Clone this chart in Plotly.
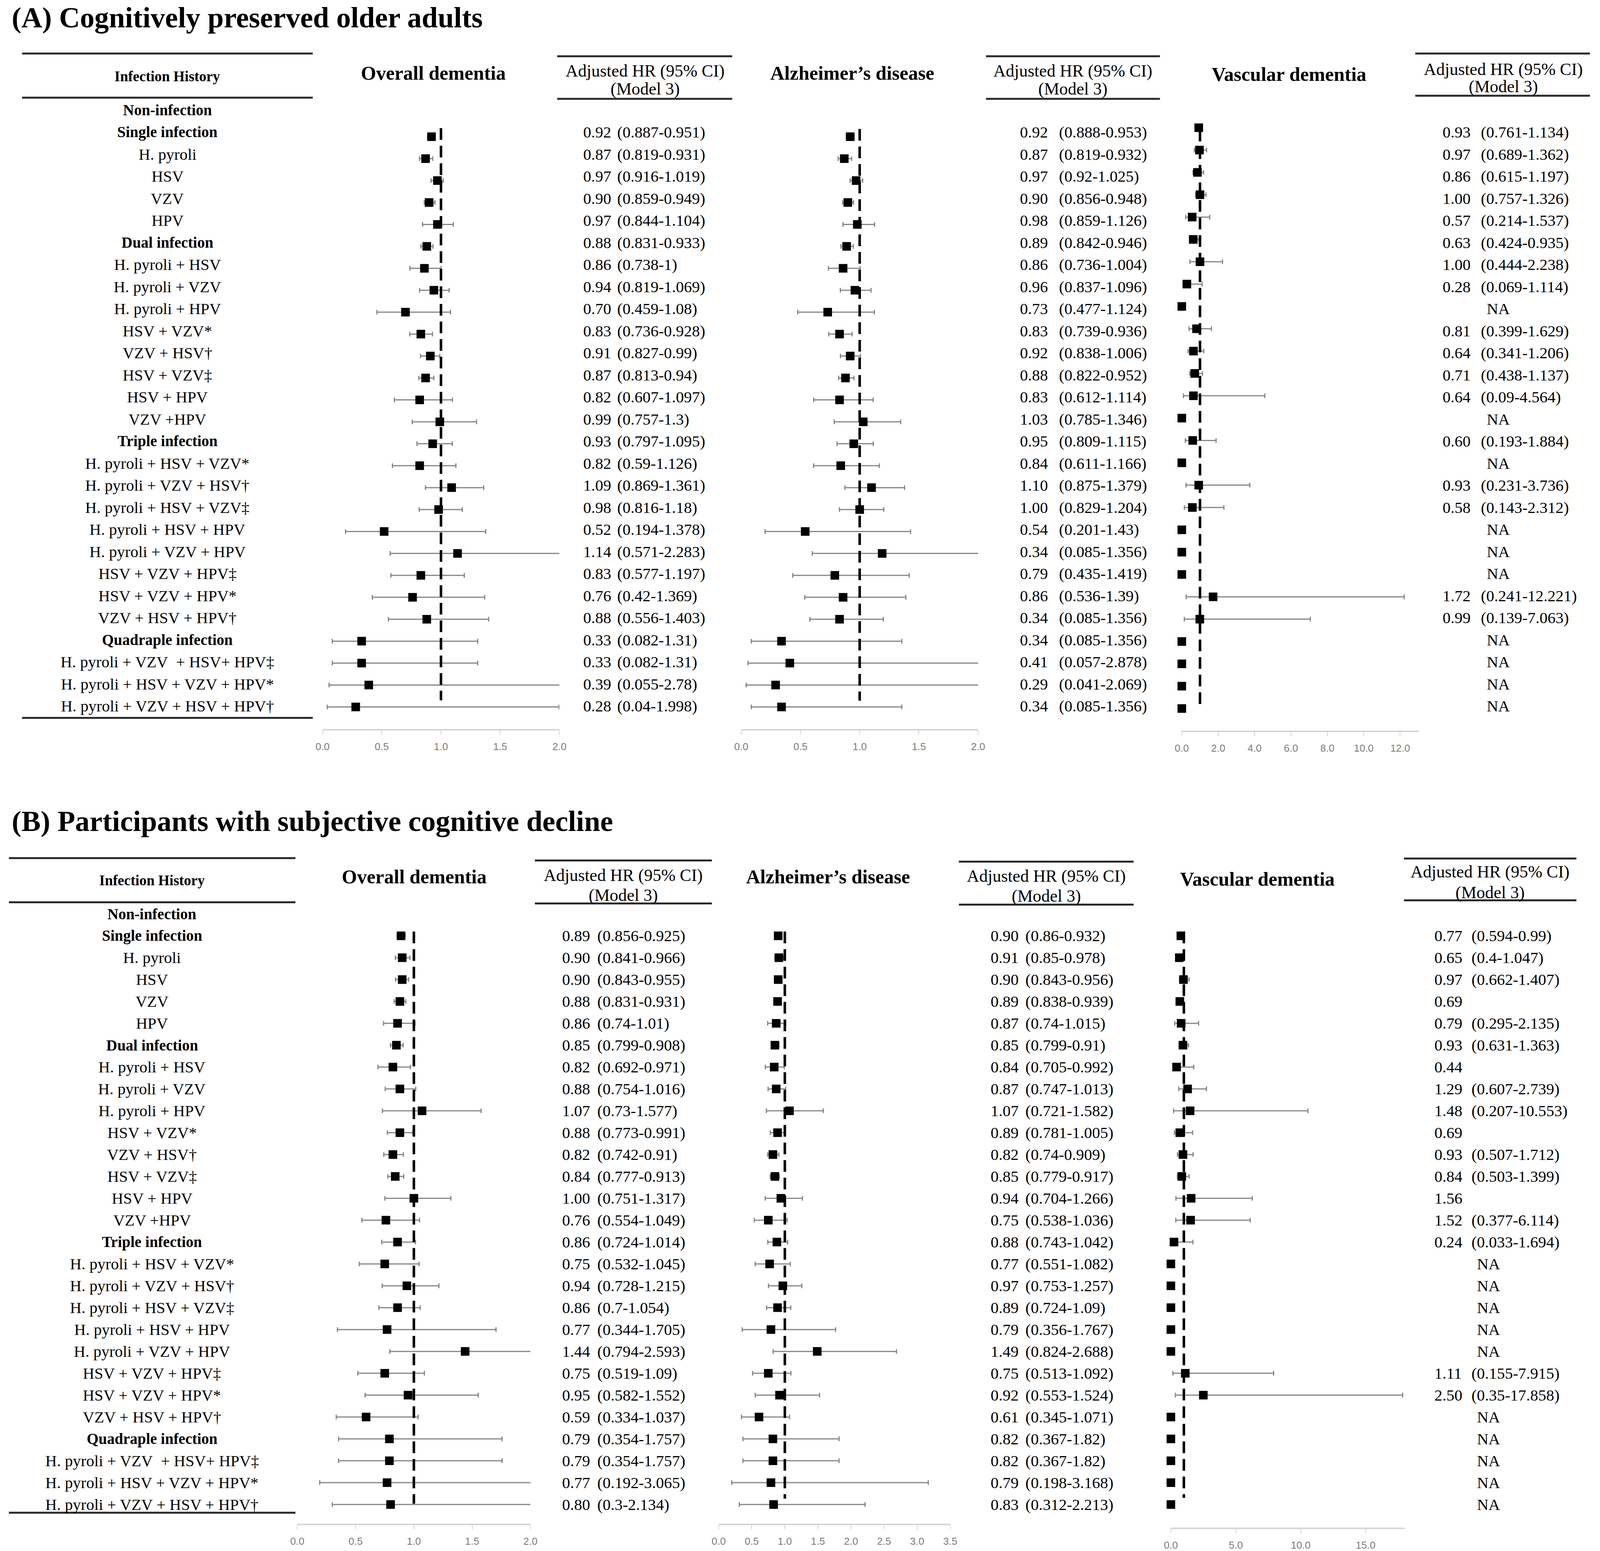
import plotly.graph_objects as go

W, H = 4212, 3970

# ---------------- data ----------------
ROW_LABELS = [
    "Non-infection", "Single infection", "H. pyroli", "HSV", "VZV", "HPV",
    "Dual infection", "H. pyroli + HSV", "H. pyroli + VZV", "H. pyroli + HPV",
    "HSV + VZV*", "VZV + HSV\u2020", "HSV + VZV\u2021", "HSV + HPV", "VZV +HPV",
    "Triple infection", "H. pyroli + HSV + VZV*", "H. pyroli + VZV + HSV\u2020",
    "H. pyroli + HSV + VZV\u2021", "H. pyroli + HSV + HPV", "H. pyroli + VZV + HPV",
    "HSV + VZV + HPV\u2021", "HSV + VZV + HPV*", "VZV + HSV + HPV\u2020",
    "Quadraple infection", "H. pyroli + VZV\u00a0 + HSV+ HPV\u2021",
    "H. pyroli + HSV + VZV + HPV*", "H. pyroli + VZV + HSV + HPV\u2020",
]
GROUP_ROWS = ["Non-infection", "Single infection", "Dual infection",
              "Triple infection", "Quadraple infection"]

COL_TITLES = ["Overall dementia", "Alzheimer\u2019s disease", "Vascular dementia"]
HR_HEADER = ["Adjusted HR (95% CI)", "(Model 3)"]
TITLE_A = "(A) Cognitively preserved older adults"
TITLE_B = "(B) Participants with subjective cognitive decline"

# Panel A - cognitively preserved
OD_A_HR = [0.92, 0.87, 0.97, 0.90, 0.97, 0.88, 0.86, 0.94, 0.70, 0.83, 0.91, 0.87, 0.82, 0.99,
           0.93, 0.82, 1.09, 0.98, 0.52, 1.14, 0.83, 0.76, 0.88, 0.33, 0.33, 0.39, 0.28]
OD_A_LO = [0.887, 0.819, 0.916, 0.859, 0.844, 0.831, 0.738, 0.819, 0.459, 0.736, 0.827, 0.813, 0.607, 0.757,
           0.797, 0.59, 0.869, 0.816, 0.194, 0.571, 0.577, 0.42, 0.556, 0.082, 0.082, 0.055, 0.04]
OD_A_HI = [0.951, 0.931, 1.019, 0.949, 1.104, 0.933, 1, 1.069, 1.08, 0.928, 0.99, 0.94, 1.097, 1.3,
           1.095, 1.126, 1.361, 1.18, 1.378, 2.283, 1.197, 1.369, 1.403, 1.31, 1.31, 2.78, 1.998]

AD_A_HR = [0.92, 0.87, 0.97, 0.90, 0.98, 0.89, 0.86, 0.96, 0.73, 0.83, 0.92, 0.88, 0.83, 1.03,
           0.95, 0.84, 1.10, 1.00, 0.54, 0.34, 0.79, 0.86, 0.34, 0.34, 0.41, 0.29, 0.34]
AD_A_LO = [0.888, 0.819, 0.92, 0.856, 0.859, 0.842, 0.736, 0.837, 0.477, 0.739, 0.838, 0.822, 0.612, 0.785,
           0.809, 0.611, 0.875, 0.829, 0.201, 0.085, 0.435, 0.536, 0.085, 0.085, 0.057, 0.041, 0.085]
AD_A_HI = [0.953, 0.932, 1.025, 0.948, 1.126, 0.946, 1.004, 1.096, 1.124, 0.936, 1.006, 0.952, 1.114, 1.346,
           1.115, 1.166, 1.379, 1.204, 1.43, 1.356, 1.419, 1.39, 1.356, 1.356, 2.878, 2.069, 1.356]
# forest marks drawn in the picture that differ from the printed table (index: (hr, lo, hi))
AD_A_DRAWN = {19: (1.19, 0.60, 2.40), 22: (0.83, 0.58, 1.20)}

VD_A_HR = [0.93, 0.97, 0.86, 1.00, 0.57, 0.63, 1.00, 0.28, None, 0.81, 0.64, 0.71, 0.64, None,
           0.60, None, 0.93, 0.58, None, None, None, 1.72, 0.99, None, None, None, None]
VD_A_LO = [0.761, 0.689, 0.615, 0.757, 0.214, 0.424, 0.444, 0.069, None, 0.399, 0.341, 0.438, 0.09, None,
           0.193, None, 0.231, 0.143, None, None, None, 0.241, 0.139, None, None, None, None]
VD_A_HI = [1.134, 1.362, 1.197, 1.326, 1.537, 0.935, 2.238, 1.114, None, 1.629, 1.206, 1.137, 4.564, None,
           1.884, None, 3.736, 2.312, None, None, None, 12.221, 7.063, None, None, None, None]

# Panel B - subjective cognitive decline
OD_B_HR = [0.89, 0.90, 0.90, 0.88, 0.86, 0.85, 0.82, 0.88, 1.07, 0.88, 0.82, 0.84, 1.00, 0.76,
           0.86, 0.75, 0.94, 0.86, 0.77, 1.44, 0.75, 0.95, 0.59, 0.79, 0.79, 0.77, 0.80]
OD_B_LO = [0.856, 0.841, 0.843, 0.831, 0.74, 0.799, 0.692, 0.754, 0.73, 0.773, 0.742, 0.777, 0.751, 0.554,
           0.724, 0.532, 0.728, 0.7, 0.344, 0.794, 0.519, 0.582, 0.334, 0.354, 0.354, 0.192, 0.3]
OD_B_HI = [0.925, 0.966, 0.955, 0.931, 1.01, 0.908, 0.971, 1.016, 1.577, 0.991, 0.91, 0.913, 1.317, 1.049,
           1.014, 1.045, 1.215, 1.054, 1.705, 2.593, 1.09, 1.552, 1.037, 1.757, 1.757, 3.065, 2.134]

AD_B_HR = [0.90, 0.91, 0.90, 0.89, 0.87, 0.85, 0.84, 0.87, 1.07, 0.89, 0.82, 0.85, 0.94, 0.75,
           0.88, 0.77, 0.97, 0.89, 0.79, 1.49, 0.75, 0.92, 0.61, 0.82, 0.82, 0.79, 0.83]
AD_B_LO = [0.86, 0.85, 0.843, 0.838, 0.74, 0.799, 0.705, 0.747, 0.721, 0.781, 0.74, 0.779, 0.704, 0.538,
           0.743, 0.551, 0.753, 0.724, 0.356, 0.824, 0.513, 0.553, 0.345, 0.367, 0.367, 0.198, 0.312]
AD_B_HI = [0.932, 0.978, 0.956, 0.939, 1.015, 0.91, 0.992, 1.013, 1.582, 1.005, 0.909, 0.917, 1.266, 1.036,
           1.042, 1.082, 1.257, 1.09, 1.767, 2.688, 1.092, 1.524, 1.071, 1.82, 1.82, 3.168, 2.213]

VD_B_HR = [0.77, 0.65, 0.97, 0.69, 0.79, 0.93, 0.44, 1.29, 1.48, 0.69, 0.93, 0.84, 1.56, 1.52,
           0.24, None, None, None, None, None, 1.11, 2.50, None, None, None, None, None]
VD_B_LO = [0.594, 0.4, 0.662, None, 0.295, 0.631, None, 0.607, 0.207, None, 0.507, 0.503, None, 0.377,
           0.033, None, None, None, None, None, 0.155, 0.35, None, None, None, None, None]
VD_B_HI = [0.99, 1.047, 1.407, None, 2.135, 1.363, None, 2.739, 10.553, None, 1.712, 1.399, None, 6.114,
           1.694, None, None, None, None, None, 7.915, 17.858, None, None, None, None, None]
VD_B_DRAWN = {6: (0.44, 0.20, 1.76), 9: (0.69, 0.27, 1.67), 12: (1.56, 0.39, 6.27)}

# ---------------- helpers ----------------
SERIF = "Liberation Serif, Times New Roman, serif"
SANS = "Liberation Sans, Arial, sans-serif"


def X(px):
    return px / W


def Y(py):
    return 1 - py / H


fig = go.Figure()
ann = []
shapes = []
layout_axes = {}
axis_counter = [0]


def hline(x0, x1, y, w=5):
    shapes.append(dict(type="line", xref="paper", yref="paper", x0=X(x0), x1=X(x1),
                       y0=Y(y), y1=Y(y), line=dict(color="#2a2a2a", width=w)))


def text(x, y, s, size, bold=False, xanchor="center", yanchor="middle"):
    if bold:
        s = "<b>" + s + "</b>"
    ann.append(dict(x=X(x), y=Y(y), xref="paper", yref="paper", text=s, showarrow=False,
                    xanchor=xanchor, yanchor=yanchor,
                    font=dict(family=SERIF, size=size, color="black")))


def fmt_hr(v):
    return f"{v:.2f}"


def fmt_ci(lo, hi):
    return f"({lo:g}-{hi:g})"


def forest(hr, lo, hi, drawn, x0, x1, xmax, ticks, axis_y, top_y, p_first, p_last,
           dash_top, dash_bot):
    axis_counter[0] += 1
    n = axis_counter[0]
    xref = "x" if n == 1 else f"x{n}"
    yref = "y" if n == 1 else f"y{n}"
    dp = (p_last - p_first) / (len(hr) - 1)

    def to_row(p):
        return (p - p_first) / dp

    rows = list(range(len(hr)))
    mx, mlo, mhi = [], [], []
    for i in rows:
        h, l, u = drawn.get(i, (hr[i], lo[i], hi[i]))
        mx.append(h if h is not None else 0.0)
        mlo.append(l)
        mhi.append(u)
    ci = [i for i in rows if mlo[i] is not None]
    fig.add_trace(go.Scatter(
        x=[mx[i] for i in ci], y=ci, mode="markers",
        marker=dict(size=2, opacity=0),
        error_x=dict(type="data", symmetric=False,
                     array=[mhi[i] - mx[i] for i in ci],
                     arrayminus=[mx[i] - mlo[i] for i in ci],
                     color="#858585", thickness=3, width=6),
        xaxis=xref, yaxis=yref, cliponaxis=True, hoverinfo="skip", showlegend=False))
    fig.add_trace(go.Scatter(
        x=[1, 1], y=[to_row(dash_top), to_row(dash_bot)], mode="lines",
        line=dict(color="black", width=6.5, dash="30px,15px"),
        xaxis=xref, yaxis=yref, hoverinfo="skip", showlegend=False))
    fig.add_trace(go.Scatter(
        x=mx, y=rows, mode="markers",
        marker=dict(symbol="square", size=22, color="black"),
        xaxis=xref, yaxis=yref, cliponaxis=False, hoverinfo="skip", showlegend=False))
    xa = "xaxis" if n == 1 else f"xaxis{n}"
    ya = "yaxis" if n == 1 else f"yaxis{n}"
    layout_axes[xa] = dict(
        domain=[X(x0), X(x1)], range=[0, xmax], anchor=yref,
        tickvals=ticks, ticktext=[f"{t:.1f}" for t in ticks],
        showline=True, linecolor="#d6d6d6", linewidth=4,
        ticks="outside", ticklen=11, tickwidth=2, tickcolor="#d6d6d6",
        tickfont=dict(family=SANS, size=26, color="#7a7a7a"),
        ticklabelstandoff=8,
        showgrid=False, zeroline=False, fixedrange=True)
    layout_axes[ya] = dict(
        domain=[Y(axis_y), Y(top_y)], range=[to_row(axis_y), to_row(top_y)],
        anchor=xref, visible=False, showgrid=False, zeroline=False, fixedrange=True)


def values(hr, lo, hi, row_y, xv, xc, xna, size=41):
    for i, (h, l, u) in enumerate(zip(hr, lo, hi)):
        y = row_y(i + 1)
        if h is None:
            text(xna, y, "NA", size)
        else:
            text(xv, y, fmt_hr(h), size, xanchor="left")
            if l is not None:
                text(xc, y, fmt_ci(l, u), size, xanchor="left")


def hr_header(cx, x0, x1, ytop, ybot, t1, t2):
    hline(x0, x1, ytop)
    hline(x0, x1, ybot)
    text(cx, t1, HR_HEADER[0], 44)
    text(cx, t2, HR_HEADER[1], 44)


def left_table(x0, x1, ytop, ymid, ybot, cx, yhead, row_y):
    hline(x0, x1, ytop)
    hline(x0, x1, ymid)
    hline(x0, x1, ybot)
    text(cx, yhead, "Infection History", 37, bold=True)
    for k, lab in enumerate(ROW_LABELS):
        if lab in GROUP_ROWS:
            text(cx, row_y(k), lab, 39, bold=True)
        else:
            text(cx, row_y(k), lab, 41)


# ---------------- Panel A ----------------
def rowA(k):
    return 282 + k * 56.5


text(10, 2, TITLE_A, 74, bold=True, xanchor="left", yanchor="top")
left_table(40, 812, 137, 250, 1838, 426, 196, rowA)
text(1132, 187, COL_TITLES[0], 50, bold=True)
text(2245, 187, COL_TITLES[1], 50, bold=True)
text(3405, 190, COL_TITLES[2], 50, bold=True)
hr_header(1695, 1461, 1926, 144, 253, 182, 228)
hr_header(2831, 2600, 3062, 144, 253, 182, 228)
hr_header(3974, 3740, 4204, 137, 245, 178, 222)
values(OD_A_HR, OD_A_LO, OD_A_HI, rowA, 1528, 1618, 0)
values(AD_A_HR, AD_A_LO, AD_A_HI, rowA, 2688, 2792, 0)
values(VD_A_HR, VD_A_LO, VD_A_HI, rowA, 3811, 3912, 3961)

forest(OD_A_HR, OD_A_LO, OD_A_HI, {}, 838, 1467, 2, [0, 0.5, 1, 1.5, 2],
       1866, 290, 350, 1810, 328, 1793)
forest(AD_A_HR, AD_A_LO, AD_A_HI, AD_A_DRAWN, 1950, 2579, 2, [0, 0.5, 1, 1.5, 2],
       1866, 290, 350, 1810, 330, 1794)
forest(VD_A_HR, VD_A_LO, VD_A_HI, {}, 3120, 3120 + 13 * 48.33, 13, [0, 2, 4, 6, 8, 10, 12],
       1870, 290, 327, 1814, 332, 1813)


# ---------------- Panel B ----------------
def rowB(k):
    return 2340 + k * 56.0


text(10, 2103, TITLE_B, 74, bold=True, xanchor="left")
left_table(5, 766, 2197, 2310, 3873, 385, 2254, rowB)
text(1082, 2245, COL_TITLES[0], 50, bold=True)
text(2181, 2245, COL_TITLES[1], 50, bold=True)
text(3321, 2251, COL_TITLES[2], 50, bold=True)
hr_header(1637, 1402, 1872, 2203, 2313, 2241, 2292)
hr_header(2760, 2528, 2992, 2206, 2316, 2243, 2294)
hr_header(3939, 3710, 4168, 2198, 2305, 2232, 2285)
values(OD_B_HR, OD_B_LO, OD_B_HI, rowB, 1472, 1565, 0)
values(AD_B_HR, AD_B_LO, AD_B_HI, rowB, 2610, 2703, 0)
values(VD_B_HR, VD_B_LO, VD_B_HI, rowB, 3789, 3887, 3935)

forest(OD_B_HR, OD_B_LO, OD_B_HI, {}, 771, 1390, 2, [0, 0.5, 1, 1.5, 2],
       3901, 2330, 2396, 3852, 2385, 3850)
forest(AD_B_HR, AD_B_LO, AD_B_HI, {}, 1890, 2505, 3.5, [0, 0.5, 1, 1.5, 2, 2.5, 3, 3.5],
       3901, 2330, 2396, 3852, 2385, 3837)
forest(VD_B_HR, VD_B_LO, VD_B_HI, VD_B_DRAWN, 3091, 3091 + 18 * 34.47, 18, [0, 5, 10, 15],
       3911, 2330, 2396, 3852, 2385, 3835)

fig.update_layout(
    width=W, height=H, margin=dict(l=0, r=0, t=0, b=0, pad=0),
    paper_bgcolor="white", plot_bgcolor="white", showlegend=False,
    annotations=ann, shapes=shapes, **layout_axes)

# fit the figure to the browser viewport (no page margin / scrollbars)
POST = """
document.documentElement.style.margin='0';document.body.style.margin='0';
document.documentElement.style.overflow='hidden';document.body.style.overflow='hidden';
var gd=document.getElementById('{plot_id}');
var w=document.documentElement.clientWidth, h=document.documentElement.clientHeight;
return Plotly.relayout(gd,{width:w,height:h});
"""

fig.write_html("out.html", post_script=POST, config={"displayModeBar": False})
